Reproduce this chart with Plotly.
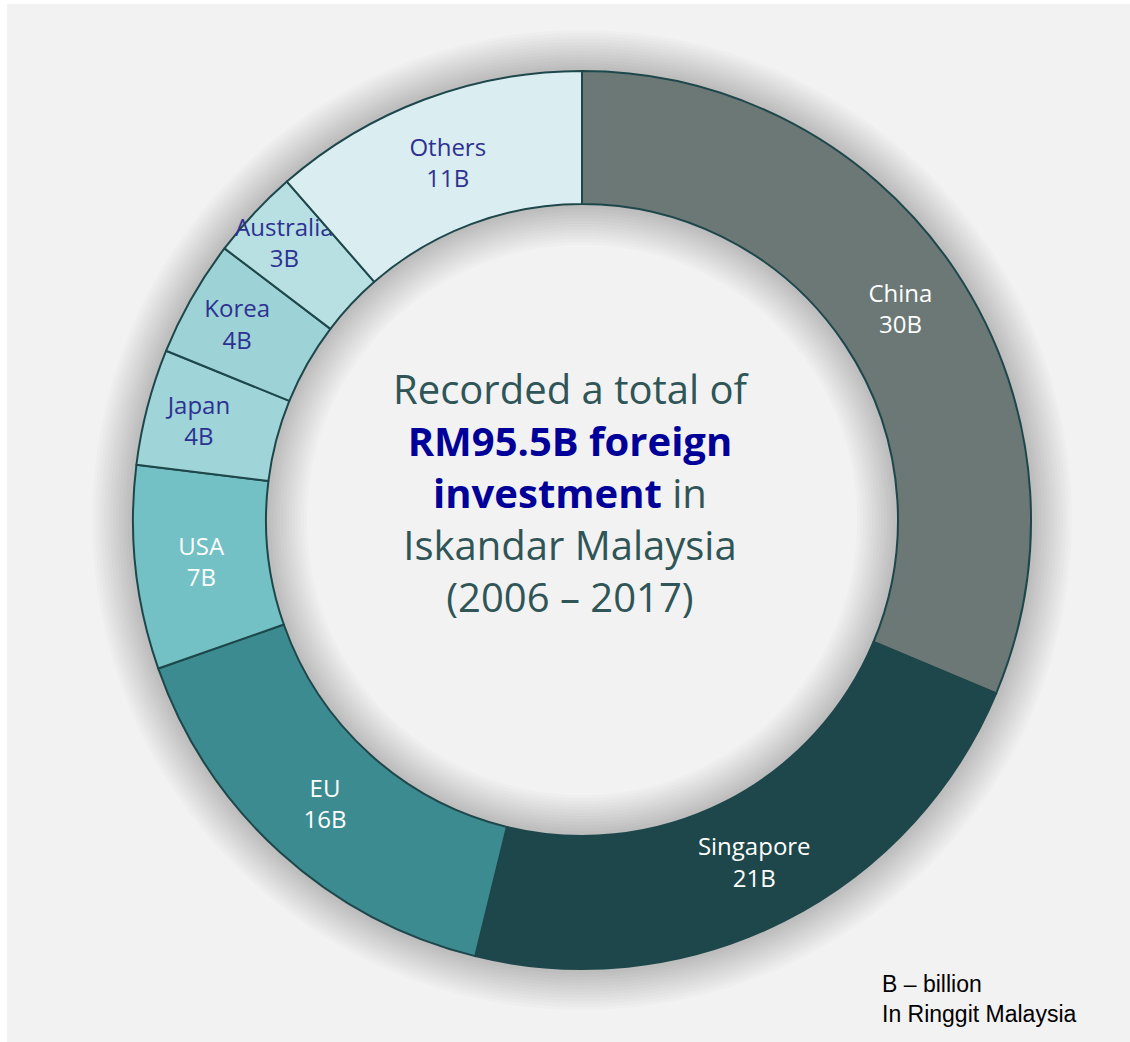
import plotly.graph_objects as go

# ---- data ----
countries = ["China", "Singapore", "EU", "USA", "Japan", "Korea", "Australia", "Others"]
values = [29.9, 21.5, 15.1, 7.0, 4.0, 4.0, 3.1, 10.9]   # RM billion
value_labels = ["30B", "21B", "16B", "7B", "4B", "4B", "3B", "11B"]
slice_colors = ["#6b7876", "#1e474b", "#3c8b91", "#73c0c5", "#9fd4d8", "#9dd3d6", "#b8e0e3", "#daeef1"]
text_colors = ["#ffffff", "#ffffff", "#ffffff", "#ffffff", "#2e3192", "#2e3192", "#2e3192", "#2e3192"]

center_lines = [
    "Recorded a total of",
    "<b><span style='color:#000099'>RM95.5B foreign</span></b>",
    "<b><span style='color:#000099'>investment</span></b> in",
    "Iskandar Malaysia",
    "(2006 – 2017)",
]
note_lines = ["B – billion", "In Ringgit Malaysia"]

W, H = 1130, 1042
CX, CY = 582, 520          # pixel centre (from top)
R_OUT, R_IN = 449, 316


def domain_for(r):
    return dict(x=[(CX - r) / W, (CX + r) / W],
                y=[(H - CY - r) / H, (H - CY + r) / H])


fig = go.Figure()

# soft shadow rings behind the donut
layers = 14
for i in range(layers):
    ro = R_OUT + 2 + i * 3
    ri = max(R_IN - 2 - i * 3, 1)
    fig.add_trace(go.Pie(
        values=[1], labels=["s"], sort=False, hole=ri / ro,
        domain=domain_for(ro), marker=dict(colors=["rgba(0,0,0,0.015)"], line=dict(width=0)),
        textinfo="none", hoverinfo="skip", showlegend=False))

fig.add_trace(go.Pie(
    labels=countries, values=values, text=value_labels,
    sort=False, direction="clockwise", rotation=0, hole=R_IN / R_OUT,
    domain=domain_for(R_OUT),
    marker=dict(colors=slice_colors, line=dict(color="#1e474b", width=2)),
    texttemplate="%{label}<br>%{text}", textposition="inside",
    insidetextorientation="horizontal",
    textfont=dict(family="Open Sans", size=24, color=text_colors),
    hoverinfo="label+text", showlegend=False))

fig.add_annotation(
    x=571 / W, y=(H - 492) / H, xref="paper", yref="paper",
    xanchor="center", yanchor="middle", showarrow=False, align="center",
    text="<br>".join(center_lines),
    font=dict(family="Open Sans", size=40, color="#2f5557"))

fig.add_annotation(
    x=880 / W, y=(H - 999) / H, xref="paper", yref="paper",
    xanchor="left", yanchor="middle", showarrow=False, align="left",
    text="<br>".join(note_lines),
    font=dict(family="Liberation Sans, Arial", size=23, color="#000000"))

fig.add_shape(type="rect", xref="paper", yref="paper",
              x0=7 / W, x1=1, y0=0, y1=(H - 4) / H,
              fillcolor="#f2f2f2", line=dict(width=0), layer="below")

fig.update_layout(
    width=W, height=H, margin=dict(l=0, r=0, t=0, b=0),
    paper_bgcolor="#ffffff", plot_bgcolor="#ffffff",
    uniformtext=dict(minsize=24, mode="show"),
    showlegend=False)

fig.write_html("out.html", config={"displayModeBar": False},
               post_script="document.body.style.margin='0';")
